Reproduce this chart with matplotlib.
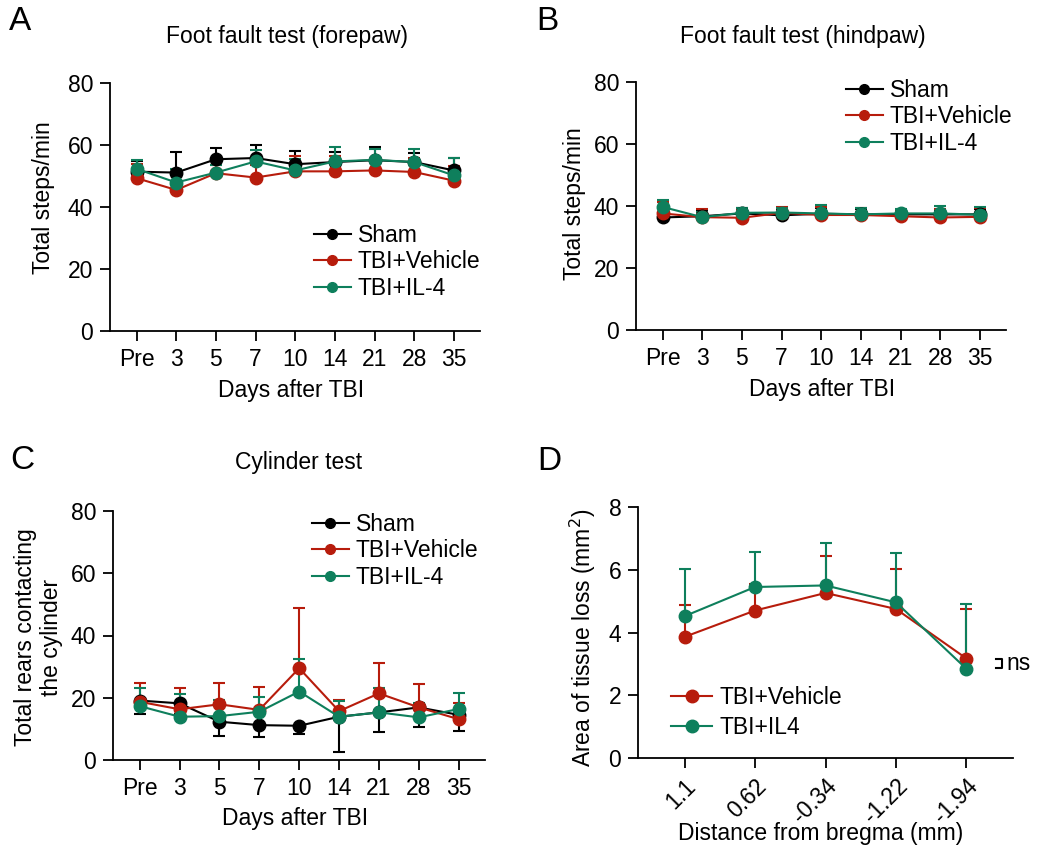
import numpy as np
import matplotlib
matplotlib.use("Agg")
import matplotlib.pyplot as plt
from matplotlib.lines import Line2D

plt.rcParams['font.family'] = ['Liberation Sans', 'DejaVu Sans']

# ---- data ----
days = ['Pre', '3', '5', '7', '10', '14', '21', '28', '35']
groups = ['Sham', 'TBI+Vehicle', 'TBI+IL-4']

# A: forepaw (mean, upper SEM)
fore_sham = [51.4, 51.1, 55.4, 55.8, 53.8, 54.5, 55.1, 54.5, 51.8]
fore_sham_err = [3.5, 6.8, 3.6, 4.1, 4.3, 3.4, 4.2, 2.9, 4.0]
fore_veh = [49.3, 45.5, 50.9, 49.5, 51.5, 51.5, 51.8, 51.3, 48.5]
fore_veh_err = [4.6, 2.5, 2.6, 4.1, 4.8, 4.8, 3.5, 4.5, 4.8]
fore_il4 = [52.3, 47.9, 51.1, 54.7, 51.8, 54.7, 55.2, 54.5, 50.2]
fore_il4_err = [2.9, 4.4, 2.4, 3.8, 3.7, 4.8, 3.6, 4.3, 5.6]

# B: hindpaw
hind_sham = [36.3, 36.7, 37.6, 37.0, 37.5, 37.3, 37.3, 37.3, 37.3]
hind_sham_err = [1.2, 1.8, 1.8, 1.6, 1.8, 1.8, 1.3, 1.5, 1.8]
hind_veh = [37.6, 36.4, 36.2, 37.8, 37.1, 37.1, 36.7, 36.3, 36.5]
hind_veh_err = [3.7, 2.6, 2.8, 1.8, 2.6, 2.2, 1.8, 2.8, 2.8]
hind_il4 = [39.7, 36.4, 37.8, 37.9, 37.6, 37.3, 37.6, 37.6, 37.2]
hind_il4_err = [2.2, 1.8, 1.5, 1.5, 2.6, 1.9, 1.5, 2.4, 2.4]

# C: cylinder (sham error drawn downward)
cyl_sham = [19.1, 18.2, 12.3, 11.2, 11.0, 13.9, 15.3, 16.9, 14.5]
cyl_sham_err = [4.3, 3.5, 4.5, 3.7, 2.8, 11.2, 6.2, 6.2, 5.2]
cyl_veh = [18.7, 16.3, 17.9, 16.1, 29.5, 15.7, 21.4, 16.9, 13.1]
cyl_veh_err = [5.9, 6.9, 6.8, 7.5, 19.4, 3.6, 9.7, 7.4, 5.3]
cyl_il4 = [17.3, 13.9, 14.1, 15.5, 22.0, 13.9, 15.3, 13.7, 16.4]
cyl_il4_err = [5.9, 7.3, 5.2, 4.8, 10.4, 5.1, 7.9, 4.5, 5.0]

# D: tissue loss
bregma = ['1.1', '0.62', '-0.34', '-1.22', '-1.94']
loss_veh = [3.86, 4.70, 5.26, 4.75, 3.17]
loss_veh_err = [1.01, 0.85, 1.19, 1.28, 1.59]
loss_il4 = [4.52, 5.45, 5.50, 4.96, 2.84]
loss_il4_err = [1.51, 1.12, 1.35, 1.57, 2.07]

BLACK = '#000000'
RED = '#B71C0C'
GREEN = '#0E7F5C'
FS = 16.5

W, H = 1043, 848
fig = plt.figure(figsize=(W / 100, H / 100), dpi=100)


def add_ax(l, t, r, b):
    return fig.add_axes([l / W, 1 - b / H, (r - l) / W, (b - t) / H])


def style(ax):
    for s in ['top', 'right']:
        ax.spines[s].set_visible(False)
    for s in ['left', 'bottom']:
        ax.spines[s].set_linewidth(1.3)
    ax.tick_params(width=1.3, length=7, labelsize=FS, pad=5)


def series(ax, y, err, color, down=False):
    x = np.arange(len(y))
    yerr = [err, np.zeros(len(err))] if down else [np.zeros(len(err)), err]
    ax.errorbar(x, y, yerr=yerr, color=color, marker='o', ms=9, lw=1.5,
                elinewidth=1.5, capsize=4.5, capthick=1.5)


def put_legend(ax, labels, colors, left, top, ms=7, hl=1.6, spacing=0.15):
    handles = [Line2D([], [], color=c, marker='o', ms=ms, lw=1.5) for c in colors]
    ax.legend(handles, labels, loc='upper left',
              bbox_to_anchor=(left / W, 1 - top / H),
              bbox_transform=fig.transFigure, frameon=False, fontsize=FS,
              handlelength=hl, handletextpad=0.3, labelspacing=spacing,
              borderpad=0, borderaxespad=0)


def labels(ax, xlab, ylab, xpos, ypos):
    ax.set_xlabel(xlab, fontsize=FS, va='center')
    ax.set_ylabel(ylab, fontsize=FS, va='center')
    ax.xaxis.set_label_coords(*xpos)
    ax.yaxis.set_label_coords(*ypos)


def time_panel(ax, data):
    for y, e, c, down in data:
        series(ax, y, e, c, down)
    style(ax)
    ax.set_xlim(-0.67, 8.66)
    ax.set_ylim(0, 80)
    ax.set_yticks([0, 20, 40, 60, 80])
    ax.set_xticks(range(len(days)))
    ax.set_xticklabels(days)


# A
axA = add_ax(110, 83, 480, 331)
time_panel(axA, [(fore_sham, fore_sham_err, BLACK, False),
                 (fore_veh, fore_veh_err, RED, False),
                 (fore_il4, fore_il4_err, GREEN, False)])
labels(axA, 'Days after TBI', 'Total steps/min', (0.49, -0.238), (-0.181, 0.536))
put_legend(axA, groups, [BLACK, RED, GREEN], 314, 224)

# B
axB = add_ax(636, 82, 1006, 330)
time_panel(axB, [(hind_sham, hind_sham_err, BLACK, False),
                 (hind_veh, hind_veh_err, RED, False),
                 (hind_il4, hind_il4_err, GREEN, False)])
labels(axB, 'Days after TBI', 'Total steps/min', (0.503, -0.238), (-0.165, 0.508))
put_legend(axB, groups, [BLACK, RED, GREEN], 846, 79)

# C
axC = add_ax(113, 511, 485, 760)
time_panel(axC, [(cyl_sham, cyl_sham_err, BLACK, True),
                 (cyl_veh, cyl_veh_err, RED, False),
                 (cyl_il4, cyl_il4_err, GREEN, False)])
labels(axC, 'Days after TBI', 'Total rears contacting\nthe cylinder',
       (0.49, -0.233), (-0.2, 0.494))
put_legend(axC, groups, [BLACK, RED, GREEN], 312, 513)

# D
axD = add_ax(638, 507, 1013, 758)
series(axD, loss_veh, loss_veh_err, RED)
series(axD, loss_il4, loss_il4_err, GREEN)
style(axD)
axD.set_xlim(-0.66, 4.66)
axD.set_ylim(0, 8)
axD.set_yticks([0, 2, 4, 6, 8])
axD.set_xticks(range(len(bregma)))
axD.set_xticklabels(bregma, rotation=45, ha='right', rotation_mode='anchor')
labels(axD, 'Distance from bregma (mm)', 'Area of tissue loss (mm$^2$)',
       (0.488, -0.302), (-0.147, 0.48))
put_legend(axD, ['TBI+Vehicle', 'TBI+IL4'], [RED, GREEN], 671, 686,
           ms=9, hl=1.8, spacing=0.3)

# ns bracket
bx0, bx1 = 4.42, 4.5
axD.plot([bx0, bx1, bx1, bx0], [3.17, 3.17, 2.88, 2.88], color='black',
         lw=1.5, clip_on=False)
axD.text(4.56, 3.02, 'ns', fontsize=FS, va='center', ha='left')

# titles and panel letters
fig.text(287 / W, 1 - 36 / H, 'Foot fault test (forepaw)', fontsize=16.5,
         ha='center', va='center')
fig.text(803 / W, 1 - 36 / H, 'Foot fault test (hindpaw)', fontsize=16.5,
         ha='center', va='center')
fig.text(299 / W, 1 - 463 / H, 'Cylinder test', fontsize=16.5,
         ha='center', va='center')
for letter, x, y in [('A', 9, 22), ('B', 536, 22), ('C', 10, 460), ('D', 537, 462)]:
    fig.text(x / W, 1 - y / H, letter, fontsize=24, ha='left', va='center')

fig.savefig('out.png', dpi=100)
